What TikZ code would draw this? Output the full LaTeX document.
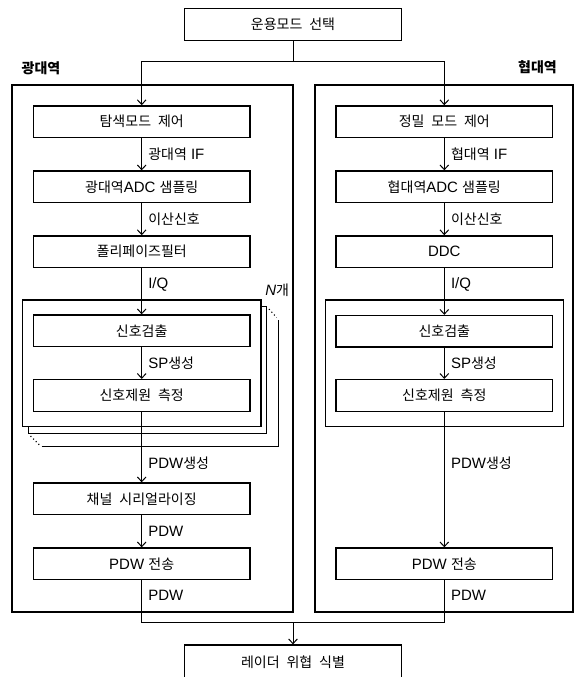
\documentclass[tikz,border=0pt]{standalone}
\usepackage{fontspec}
\setmainfont{Liberation Sans}
\newfontfamily\kr{Noto Sans CJK KR}[WordSpace=2.2]
\newcommand\K[1]{{\kr\fontsize{10.5pt}{12pt}\selectfont #1}}
\usetikzlibrary{arrows.meta}
\begin{document}
\begin{tikzpicture}[x=0.75pt,y=-0.75pt,
  font=\fontsize{11.25pt}{13pt}\selectfont,
  blk/.style={draw,line width=1pt,fill=white,minimum width=162.4pt,minimum height=23.7pt,inner sep=0pt},
  outerbox/.style={draw,line width=1.5pt},
  panel/.style={draw,line width=0.8pt,fill=white},
  arr/.style={-{Straight Barb[length=3.5pt,width=6.5pt]},line width=0.75pt},
  con/.style={line width=0.75pt},
  lab/.style={anchor=west,inner sep=0pt}]
\useasboundingbox (0,0) rectangle (579,677);

% outer boxes
\draw[outerbox] (12.3,85) rectangle (293.3,612.3);
\draw[outerbox] (315,85) rectangle (573.3,612.3);
\node[inner sep=0pt] (wl) at (41,68) {\K{\bfseries 광대역}};
\node[inner sep=0pt] (wr) at (537.5,67.5) {\K{\bfseries 협대역}};

% stacked panels (left)
\draw[line width=0.8pt] (41.7,446.7) -- (278.3,446.7) -- (278.3,320);
\draw[panel] (28.3,306.7) rectangle (266.7,433.3);
\draw[panel] (22.7,300) rectangle (261,426.7);
\draw[dotted,line width=0.8pt] (269,309) -- (276.5,317.5);
\draw[dotted,line width=0.8pt] (30.5,436) -- (39.5,445);
\node[lab] (nn) at (265,290) {\textit{N}\K{개}};
% right panel
\draw[panel] (325.7,300) rectangle (563.3,426.7);

% boxes
\node[blk] (sel) at (293,24.5) {\K{운용모드 선택}};
\node[blk] (L1) at (141.7,121.7) {\K{탐색모드 제어}};
\node[blk] (L2) at (141.7,186.8) {\K{광대역}ADC \K{샘플링}};
\node[blk] (L3) at (141.7,251.7) {\K{폴리페이즈필터}};
\node[blk] (L4) at (141.7,330.8) {\K{신호검출}};
\node[blk] (L5) at (141.7,395.4) {\K{신호제원 측정}};
\node[blk] (L6) at (141.7,498.8) {\K{채널 시리얼라이징}};
\node[blk] (L7) at (141.7,563.8) {PDW \K{전송}};
\node[blk] (R1) at (444.3,121.7) {\K{정밀 모드 제어}};
\node[blk] (R2) at (444.3,186.8) {\K{협대역}ADC \K{샘플링}};
\node[blk] (R3) at (444.3,251.7) {DDC};
\node[blk] (R4) at (444.3,331.3) {\K{신호검출}};
\node[blk] (R5) at (444.3,395.4) {\K{신호제원 측정}};
\node[blk] (R7) at (444.3,563.8) {PDW \K{전송}};
\node[blk,minimum height=25pt] (out) at (293,661.7) {\K{레이더 위협 식별}};

% connectors
\coordinate (jt) at (sel.south |- 0,62);
\draw[con] (sel.south) -- (jt);
\draw[arr] (jt) -| (L1.north);
\draw[arr] (jt) -| (R1.north);
\draw[arr] (L1.south) -- (L2.north);
\draw[arr] (L2.south) -- (L3.north);
\draw[arr] (L3.south) -- (L4.north);
\draw[arr] (L4.south) -- (L5.north);
\draw[arr] (L5.south) -- (L6.north);
\draw[arr] (L6.south) -- (L7.north);
\draw[arr] (R1.south) -- (R2.north);
\draw[arr] (R2.south) -- (R3.north);
\draw[arr] (R3.south) -- (R4.north);
\draw[arr] (R4.south) -- (R5.north);
\draw[arr] (R5.south) -- (R7.north);
\coordinate (jb) at (out.north |- 0,622.7);
\draw[con] (L7.south) |- (jb);
\draw[con] (R7.south) |- (jb);
\draw[arr] (jb) -- (out.north);

% labels
\node[lab] (a1) at (148,154.3) {\K{광대역} IF};
\node[lab] (a2) at (148,219.3) {\K{이산신호}};
\node[lab] (a3) at (148,284) {I/Q};
\node[lab] (a4) at (148,363.3) {SP\K{생성}};
\node[lab] (a5) at (148,463.3) {PDW\K{생성}};
\node[lab] (a6) at (148,531.7) {PDW};
\node[lab] (a7) at (148,595) {PDW};
\node[lab] (b1) at (450.8,154.3) {\K{협대역} IF};
\node[lab] (b2) at (450.8,219.3) {\K{이산신호}};
\node[lab] (b3) at (450.8,284) {I/Q};
\node[lab] (b4) at (450.8,363.3) {SP\K{생성}};
\node[lab] (b5) at (450.8,463.3) {PDW\K{생성}};
\node[lab] (b7) at (450.8,595) {PDW};
\end{tikzpicture}
\end{document}
